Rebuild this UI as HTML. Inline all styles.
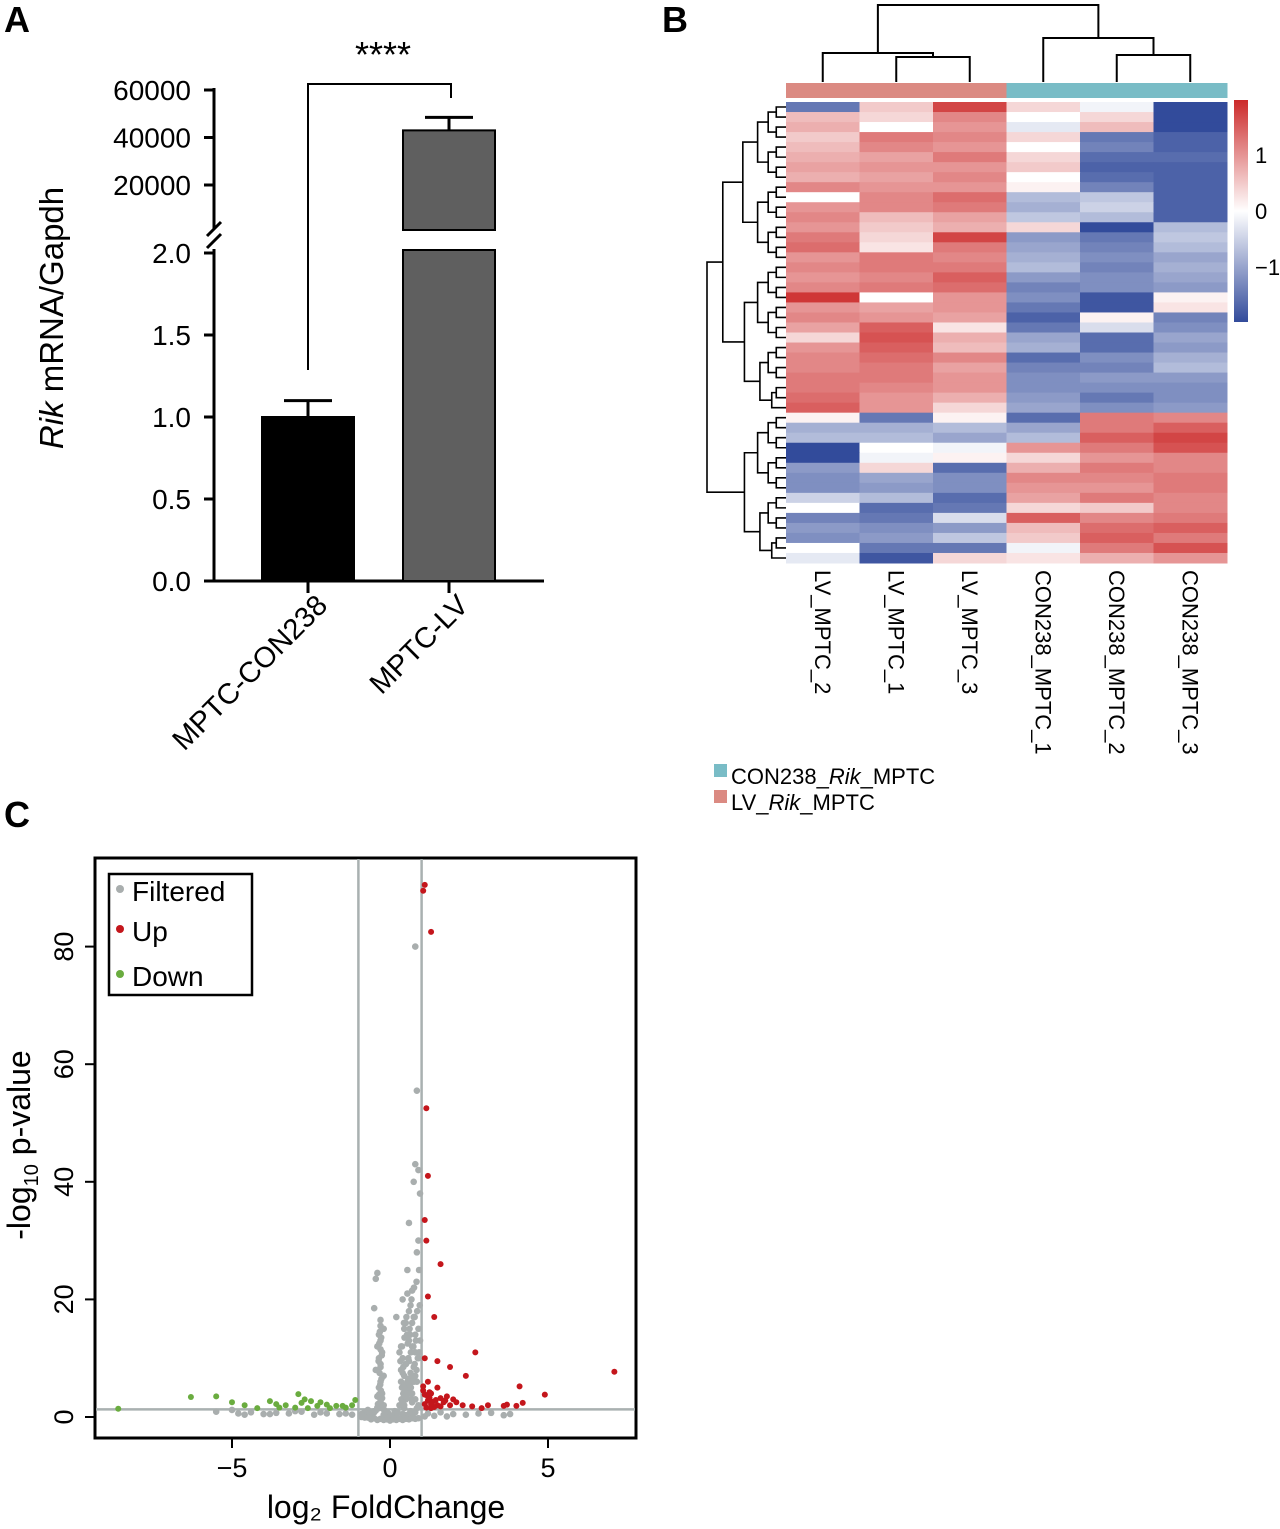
<!DOCTYPE html>
<html><head><meta charset="utf-8"><style>
html,body{margin:0;padding:0;background:#fff;}
svg{display:block;font-family:"Liberation Sans",Arial,sans-serif;}
</style></head><body>
<svg id="fig" width="1280" height="1529" viewBox="0 0 1280 1529" xmlns="http://www.w3.org/2000/svg">
<text x="4" y="32" font-size="36" font-weight="bold">A</text>
<text x="662" y="32" font-size="36" font-weight="bold">B</text>
<text x="4" y="827" font-size="36" font-weight="bold">C</text>
<g id="barA"></g>
<g id="heat"></g>
<g id="volc"></g>
</svg>
<script>
// ---------- Panel A data ----------
const barCats = ["MPTC-CON238","MPTC-LV"];
const barVals = [1.0, 43000];
const barErr = [1.1, 48500];
const lowTicks = ["0.0","0.5","1.0","1.5","2.0"];
const lowTickVals = [0,0.5,1,1.5,2];
const highTicks = ["20000","40000","60000"];
const highTickVals = [20000,40000,60000];

// ---------- Panel B data ----------
const heatCols = ["LV_MPTC_2","LV_MPTC_1","LV_MPTC_3","CON238_MPTC_1","CON238_MPTC_2","CON238_MPTC_3"];
const heatGroups = ["LV","LV","LV","CON","CON","CON"];
const heatRows = [
[-1.2,0.4,1.4,0.3,-0.1,-1.6],[0.5,0.3,0.9,0,0.3,-1.6],[0.6,0,0.8,-0.2,0.5,-1.6],[0.4,1,0.9,0.3,-1.2,-1.4],
[0.5,0.9,0.8,0,-1.1,-1.4],[0.6,0.7,1,0.3,-1.3,-1.3],[0.7,0.8,0.8,0.4,-1.4,-1.4],[0.6,0.7,0.9,0,-1.3,-1.4],
[0.9,0.8,0.8,0.1,-1.1,-1.4],[0,0.9,1.1,-0.6,-0.5,-1.4],[0.8,0.9,1,-0.7,-0.4,-1.4],[0.9,0.5,0.7,-0.5,-0.6,-1.4],
[0.8,0.4,0.6,0.3,-1.6,-0.6],[1,0.3,1.4,-0.9,-1.2,-0.5],[1.1,0.2,1,-0.8,-1.1,-0.6],[0.8,1,0.9,-0.7,-1,-0.8],
[0.9,1,1,-0.6,-1.1,-0.7],[0.8,0.9,1.2,-0.9,-1.0,-0.8],[0.9,1,1.1,-1.1,-1,-0.9],[1.5,0,0.8,-1,-1.5,0.1],
[0.8,0.7,0.8,-1.2,-1.5,0.2],[0.9,0.8,0.7,-1.4,0.1,-1.1],[0.7,1.2,0.2,-1.2,-0.3,-1.0],[0.3,1.3,0.6,-0.8,-1.3,-0.8],
[0.8,1.2,0.5,-0.7,-1.3,-0.9],[0.9,1.1,0.9,-1.3,-1.0,-0.7],[0.9,1,0.7,-1.1,-1.1,-0.6],[1,1,0.8,-1,-0.9,-0.9],
[1,0.9,0.8,-1.0,-1,-1],[1.1,0.8,0.6,-0.9,-1.2,-1],[1.2,0.8,0.3,-0.8,-1,-0.9],[0.1,-1.2,0.1,-1.3,1,0.9],
[-0.7,-0.7,-0.6,-0.8,1,1.2],[-0.6,-0.6,-0.8,-0.6,1.2,1.4],[-1.6,0,-0.1,0.8,1,1.3],[-1.6,-0.1,0.1,0.3,0.8,0.9],
[-0.9,0.3,-1.3,0.6,1,0.9],[-1,-0.8,-1,0.9,0.9,1],[-1,-0.9,-1,0.8,0.8,1],[-0.4,-0.6,-1.3,0.7,1,0.9],
[0,-1.3,-1.2,0.3,0.4,0.9],[-1.1,-1.2,-0.3,1.2,0.9,1],[-0.9,-1.0,-0.9,0.5,1.1,1.2],[-1.0,-0.9,-0.5,0.4,1.2,1.0],
[0,-1.2,-1.2,-0.1,1,1.3],[-0.2,-1.5,0.3,0.2,0.6,0.8]];
const colorbarTicks = [1,0,-1];

// ---------- Panel C data ----------
const upX = [1.1,1.05,1.3,1.15,1.2,1.1,1.15,1.6,1.2,1.4,2.7,1.1,1.5,1.9,2.4,4.1,4.9,7.1,1.2,1.5,1.3,1.8,2,1.7,1.2,1.5,2.3,2.6,3.1,3.6,3.7,4,4.2,2.9,1.4,1.1,1.6,2.1,1.3,1.9,1.05,1.25,1.45,1.1,1.2,1.35,1.15,1.3,1.6,1.75,1.05,1.25];
const upY = [90.5,89.5,82.5,52.5,41,33.5,30,26,20.5,17,11,10,9.5,8.5,7,5.2,3.8,7.7,6,5,4,3.5,3,2.5,2.8,2,2,1.8,2,1.9,2.1,1.9,2.4,1.5,1.7,2.2,1.8,2.5,1.5,2,4.5,3.3,2.9,3.8,3.5,2.6,1.6,2.2,3.2,2.8,5.2,4.2];
const downX = [-8.6,-6.3,-5.5,-5,-4.6,-3.8,-3.6,-3.3,-2.9,-2.8,-2.5,-2.2,-2,-1.7,-1.5,-1.2,-3,-2.6,-1.9,-1.1,-4.2,-3.5,-2.3,-2.7,-1.4];
const downY = [1.4,3.4,3.5,2.5,2,2.7,2.2,2,3.9,2.4,2.7,2.5,2.1,1.9,1.9,2,1.6,1.5,1.5,2.9,1.5,1.6,1.9,3.0,1.6];
const grayX = [0.8,0.85,0.8,0.9,0.75,0.95,0.6,0.9,0.85,0.55,-0.4,-0.45,0.7,0.55,0.4,-0.5,0.2,-0.3,-0.2,0.65,0.75,0.5,0.45,0.8,0.6,0.35,
-0.35,-0.3,-0.4,-0.25,-0.35,-0.3,-0.45,-0.2,-0.3,-0.35,-0.25,-0.4,-0.3,-0.2,-0.35,-0.5,-0.6,-0.7,-0.8,-0.9,
0.3,0.4,0.5,0.6,0.7,0.8,0.9,0.35,0.45,0.55,0.65,0.75,0.85,0.4,0.5,0.6,0.7,0.8,0.3,0.5,0.7,0.9,0.45,0.65,0.85,0.4,0.6,0.8,0.5,0.7,
0.1,0,-0.1,0.2,-0.2,0.15,-0.05,0.05,0.25,-0.15,
-5,-4.8,-4.4,-4,-3.6,-3.2,-2.8,-2.4,-2,-1.6,-1.2,-0.9,1.2,1.6,2,2.4,2.8,3.2,3.6,3.8,-5.5,-4.6,-3.8,-3,-2.2,-1.4,
-0.3,-0.32,-0.28,-0.34,-0.3,-0.26,-0.36,-0.3,-0.33,-0.27,-0.31,-0.29,-0.35,-0.25,-0.3,-0.38,-0.22,-0.4,-0.2,-0.45,-0.15,-0.5,-0.55,-0.6,-0.65,-0.12,
0.35,0.38,0.42,0.36,0.4,0.45,0.5,0.48,0.55,0.52,0.58,0.62,0.6,0.66,0.7,0.68,0.72,0.76,0.8,0.78,0.84,0.88,0.92,0.95,0.42,0.5,0.58,0.66,0.74,0.82,0.9,0.46,0.54,0.62,0.7,0.78,0.86,0.94,0.38,0.44,0.52,0.6,0.68,0.76,0.84,0.92,0.33,0.4,0.56,0.64,
-0.6,-0.4,-0.2,0,0.2,0.4,0.6,0.8,-0.5,-0.3,-0.1,0.1,0.3,0.5,0.7,0.9,-0.7,-0.8,-0.9,1.1,1.4,1.8];
const grayY = [80,55.5,43,42,40,38,33,30,28,25,24.5,23.5,21.5,21,20,18.5,17,16.5,15,19,17,16,15,14,13,12,
14,13,12,11,10,9,8,7,6,5,4,3.5,3,2,1.5,1,0.5,1.2,0.8,0.5,
11,10,9,9.5,12,11,10,8,7,6,7.5,8.5,6,5,4,5,4,3,2,3,2.5,2,1.5,1,1.5,0.5,0.5,0.8,0.3,0.2,
0.2,0.1,0.3,0.5,0.4,1,0.6,0.2,0.7,0.3,
1.2,0.6,0.8,0.5,0.7,0.6,0.9,0.4,0.6,0.5,0.4,0.3,0.6,0.8,0.5,0.4,0.6,0.7,0.3,0.5,0.9,0.4,0.5,1,0.8,0.6,
15.5,14.5,13.5,12.5,11.5,10.5,9.5,8.5,7.5,6.5,5.5,4.5,3.8,3.2,2.6,2.2,1.8,1.6,1.3,1.1,1,0.8,0.7,0.6,0.5,0.9,
6,5,4,3,2.5,2,3.5,5.5,4.5,3.5,6.5,5.5,4,5,6,3,7,6,7,9,8,10,11,13,8.5,9,10,11,12,13,15,13.5,14,15,16,17,18,19,12,16,17,18,20,22,23,25,9.5,7.5,12.5,14,
-0.4,-0.5,-0.5,-0.6,-0.5,-0.5,-0.4,-0.3,-0.2,-0.3,-0.4,-0.4,-0.3,-0.3,-0.2,-0.2,-0.1,-0.1,0,0.1,0.2,0.1];
const volcXTicks = [-5,0,5];
const volcYTicks = [0,20,40,60,80];

const NS="http://www.w3.org/2000/svg";
function mk(parent, tag, attrs){const e=document.createElementNS(NS,tag);for(const k in attrs)e.setAttribute(k,attrs[k]);parent.appendChild(e);return e;}

// ===== Panel A =====
(function(){
const g=document.getElementById('barA');
const yLow=v=>581-v*164;
const yHigh=v=>185-(v-20000)*0.002375;
const xs=[308,449];
let a=mk(g,'path',{d:'M214,581 V249 M214,229 V88',stroke:'#000','stroke-width':3,fill:'none'});


let br=mk(g,'path',{d:'M207,248 L221,234 M207,236 L221,222',stroke:'#000','stroke-width':3});


let xa=mk(g,'path',{d:'M204,581 H544 M308,581 v12 M449,581 v12',stroke:'#000','stroke-width':3,fill:'none'});


lowTickVals.forEach((v,i)=>{
 const y=yLow(v);
 const t=mk(g,'line',{x1:204,x2:214,y1:y,y2:y,stroke:'#000','stroke-width':3});
 
 
 const l=mk(g,'text',{x:191,y:y+10,'font-size':28,'text-anchor':'end'});l.textContent=lowTicks[i];
 
 
});
highTickVals.forEach((v,i)=>{
 const y=yHigh(v);
 const t=mk(g,'line',{x1:204,x2:214,y1:y,y2:y,stroke:'#000','stroke-width':3});
 
 
 const l=mk(g,'text',{x:191,y:y+10,'font-size':28,'text-anchor':'end'});l.textContent=highTicks[i];
 
 
});
const yl=mk(g,'text',{transform:'translate(63,318) rotate(-90)','font-size':33,'text-anchor':'middle'});
yl.innerHTML='<tspan font-style="italic">Rik</tspan> mRNA/Gapdh';


const fills=['#000','#5f5f5f'];
barVals.forEach((v,i)=>{
 const x=xs[i]-46;
 let top, etop;
 if(v<=2){top=yLow(v);etop=yLow(barErr[i]);
  const r=mk(g,'rect',{x:x,y:top,width:92,height:581-top,fill:fills[i],stroke:'#000','stroke-width':2});
  
  
 } else {top=yHigh(v);etop=yHigh(barErr[i]);
  const r1=mk(g,'rect',{x:x,y:top,width:92,height:230-top,fill:fills[i],stroke:'#000','stroke-width':2});
  
  
  const r2=mk(g,'rect',{x:x,y:250,width:92,height:331,fill:fills[i],stroke:'#000','stroke-width':2});
  
  
 }
 const e=mk(g,'path',{d:`M${xs[i]},${top} V${etop} M${xs[i]-24},${etop} H${xs[i]+24}`,stroke:'#000','stroke-width':3,fill:'none'});
 
 
 const lb=mk(g,'text',{transform:`translate(${xs[i]+21},${607}) rotate(-45)`,'font-size':29,'text-anchor':'end'});
 lb.textContent=barCats[i];
 
 
});
const bk=mk(g,'path',{d:'M308,370 V84 H451 V98',stroke:'#000','stroke-width':2,fill:'none'});


const st=mk(g,'text',{x:383,y:67,'font-size':36,'text-anchor':'middle'});st.textContent='****';


})();

// ===== Panel B =====
(function(){
const g=document.getElementById('heat');
const x0=786,w=73.5,y0=102,hTot=461;
const rh=hTot/heatRows.length;
function col(v){
 v=Math.max(-1.6,Math.min(1.6,v));const t=Math.abs(v)/1.6;
 const c=v>=0?[204,42,42]:[50,75,155];
 const r=Math.round(255+(c[0]-255)*t),gg=Math.round(255+(c[1]-255)*t),b=Math.round(255+(c[2]-255)*t);
 return `rgb(${r},${gg},${b})`;
}
heatRows.forEach((row,ri)=>{
 row.forEach((v,ci)=>{
  const c=mk(g,'rect',{x:x0+ci*w,y:y0+ri*rh,width:w+0.5,height:rh+0.5,fill:col(v)});
  
  
 });
});
heatGroups.forEach((gr,ci)=>{
 const r=mk(g,'rect',{x:x0+ci*w,y:83,width:w+0.5,height:15,fill:gr==='LV'?'#db8a82':'#79bcc6'});
 
 
});
const cx=i=>x0+(i+0.5)*w;
const cd=mk(g,'path',{d:`M${cx(1)},82 V57 H${cx(2)} V82 M${cx(0)},82 V53 H${(cx(1)+cx(2))/2} V57 M${cx(4)},82 V55 H${cx(5)} V82 M${cx(3)},82 V38 H${(cx(4)+cx(5))/2} V55 M${(cx(0)+(cx(1)+cx(2))/2)/2},53 V5 H${(cx(3)+(cx(4)+cx(5))/2)/2} V38`,stroke:'#000','stroke-width':2,fill:'none'});


let d='';
const N=heatRows.length;
function tree(a,b){
 if(b-a<1){return {y:y0+(a+0.5)*rh,x:786};}
 const m=Math.floor((a+b)/2);
 const root=(a===0&&b===N-1);
 const L=root?tree(0,30):tree(a,m);
 const R=root?tree(31,b):tree(m+1,b);
 const x=786-79*Math.pow((b-a)/(N-1),0.55);
 d+=`M${L.x},${L.y} H${x} V${R.y} H${R.x} `;
 return {y:(L.y+R.y)/2,x:x};
}
tree(0,N-1);
const rd=mk(g,'path',{d:d,stroke:'#000','stroke-width':1.6,fill:'none'});


const defs=mk(g,'defs',{});
const lg=mk(defs,'linearGradient',{id:'cb',x1:0,y1:0,x2:0,y2:1});
mk(lg,'stop',{offset:'0','stop-color':col(1.6)});mk(lg,'stop',{offset:'0.5','stop-color':'#fff'});mk(lg,'stop',{offset:'1','stop-color':col(-1.6)});
const cb=mk(g,'rect',{x:1234,y:100,width:14,height:222,fill:'url(#cb)'});


colorbarTicks.forEach(v=>{
 const t=mk(g,'text',{x:1255,y:211-v*56+8,'font-size':22});t.textContent=v<0?'\u2212'+Math.abs(v):String(v);
 
 
});
heatCols.forEach((c,i)=>{
 const t=mk(g,'text',{transform:`translate(${cx(i)-8},570) rotate(90)`,'font-size':22});t.textContent=c;
 
 
});
const le=[['#79bcc6','CON238_','MPTC',777],['#db8a82','LV_','MPTC',803]];
le.forEach(l=>{
 const r=mk(g,'rect',{x:714,y:l[3]-13,width:13,height:13,fill:l[0]});
 
 
 const t=mk(g,'text',{x:731,y:l[3]+7,'font-size':22});
 t.innerHTML=l[1]+'<tspan font-style="italic">Rik</tspan>_'+l[2];
 
 
});
})();

// ===== Panel C =====
(function(){
const g=document.getElementById('volc');
const X=v=>390+v*31.6, Y=v=>1417-v*5.88;
const box=mk(g,'rect',{x:95,y:858,width:541,height:580,fill:'none',stroke:'#000','stroke-width':3});


const th=mk(g,'path',{d:`M${X(-1)},859 V1437 M${X(1)},859 V1437 M96,${Y(1.3)} H635`,stroke:'#a9b1b1','stroke-width':2.5,fill:'none'});


function pts(xa,ya,color,name,r){
 xa.forEach((v,i)=>{
  const c=mk(g,'circle',{cx:X(v),cy:Y(ya[i]),r:r,fill:color});
  
  
 });
}
pts(grayX,grayY,'#a9aeae','point-filtered',3.3);
pts(downX,downY,'#6aac3f','point-down',3);
pts(upX,upY,'#c4161c','point-up',3);
volcXTicks.forEach(v=>{
 const t=mk(g,'line',{x1:X(v),x2:X(v),y1:1438,y2:1448,stroke:'#000','stroke-width':2});
 
 
 const l=mk(g,'text',{x:X(v),y:1477,'font-size':27,'text-anchor':'middle'});l.textContent=v<0?'\u2212'+Math.abs(v):String(v);
 
 
});
volcYTicks.forEach(v=>{
 const t=mk(g,'line',{x1:85,x2:95,y1:Y(v),y2:Y(v),stroke:'#000','stroke-width':2});
 
 
 const l=mk(g,'text',{transform:`translate(73,${Y(v)}) rotate(-90)`,'font-size':27,'text-anchor':'middle'});l.textContent=String(v);
 
 
});
const xt=mk(g,'text',{x:386,y:1518,'font-size':32,'text-anchor':'middle'});xt.textContent='log\u2082 FoldChange';


const yt=mk(g,'text',{transform:'translate(30,1145) rotate(-90)','font-size':32,'text-anchor':'middle'});
yt.innerHTML='-log<tspan font-size="20" dy="8">10</tspan><tspan dy="-8"> p-value</tspan>';


const lb=mk(g,'rect',{x:109,y:874,width:143,height:121,fill:'#fff',stroke:'#000','stroke-width':2.5});


[['#a9aeae','Filtered',892],['#c4161c','Up',932],['#6aac3f','Down',977]].forEach(e=>{
 const c=mk(g,'circle',{cx:120,cy:e[2]-3,r:4,fill:e[0]});
 
 
 const t=mk(g,'text',{x:132,y:e[2]+9,'font-size':28});t.textContent=e[1];
 
 
});
})();
</script>
</body></html>
